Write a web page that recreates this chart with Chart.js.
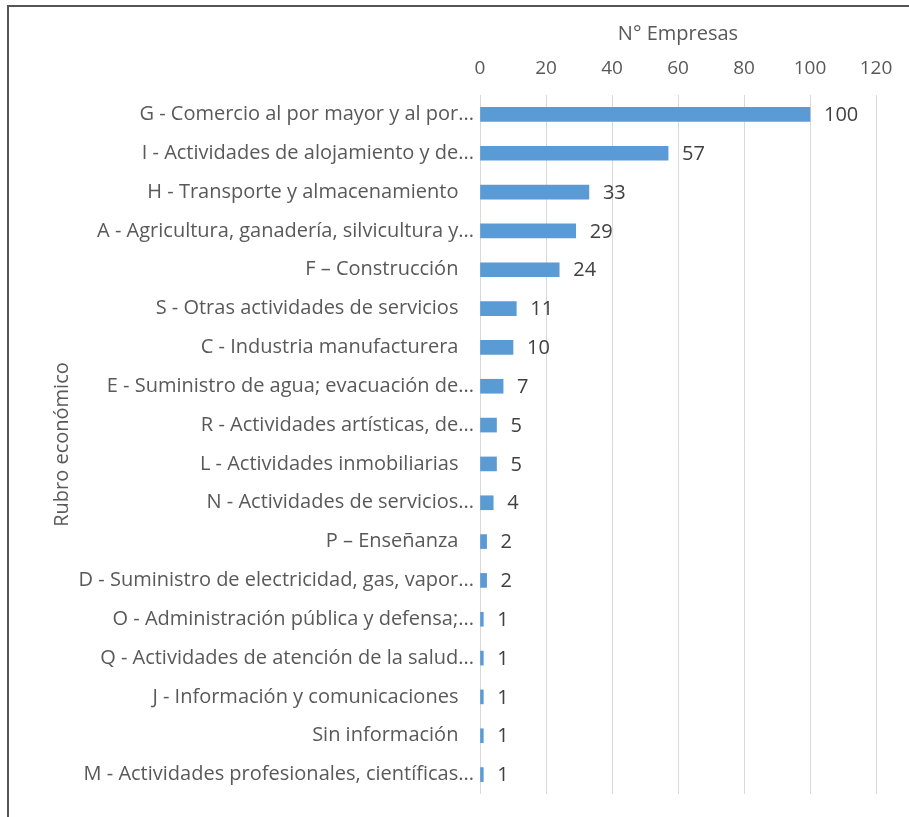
<!DOCTYPE html>
<html>
<head>
<meta charset="utf-8">
<script src="https://cdn.jsdelivr.net/npm/chart.js@4.4.1/dist/chart.umd.min.js"></script>
<style>
  html, body { margin: 0; padding: 0; background: #fff; }
  #wrap { position: relative; width: 909px; height: 817px; overflow: hidden; }
  #frame { position: absolute; left: 7px; top: 5px; width: 920px; height: 830px;
           border-left: 2px solid #555; border-top: 2px solid #555; box-sizing: border-box; }
  canvas { position: absolute; left: 0; top: 0; }
</style>
</head>
<body>
<div id="wrap">
  <canvas id="chart" width="909" height="817"></canvas>
  <div id="frame"></div>
</div>
<script>
// 業種ラベル（上から順）
const categories = [
  'G - Comercio al por mayor y al por...',
  'I - Actividades de alojamiento y de...',
  'H - Transporte y almacenamiento',
  'A - Agricultura, ganadería, silvicultura y...',
  'F – Construcción',
  'S - Otras actividades de servicios',
  'C - Industria manufacturera',
  'E - Suministro de agua; evacuación de...',
  'R - Actividades artísticas, de...',
  'L - Actividades inmobiliarias',
  'N - Actividades de servicios...',
  'P – Enseñanza',
  'D - Suministro de electricidad, gas, vapor...',
  'O - Administración pública y defensa;...',
  'Q - Actividades de atención de la salud...',
  'J - Información y comunicaciones',
  'Sin información',
  'M - Actividades profesionales, científicas...'
];

// 企業数
const empresas = [100, 57, 33, 29, 24, 11, 10, 7, 5, 5, 4, 2, 2, 1, 1, 1, 1, 1];

// 目盛り
const xTicks = [0, 20, 40, 60, 80, 100, 120];

const textColor = '#595959';
const fontFamily = '"Open Sans", sans-serif';

// 値ラベルを棒の右に描く
const valueLabels = {
  id: 'valueLabels',
  afterDatasetsDraw(chart) {
    const ctx = chart.ctx;
    const meta = chart.getDatasetMeta(0);
    ctx.save();
    ctx.font = '20px ' + fontFamily;
    ctx.fillStyle = '#404040';
    ctx.textAlign = 'left';
    ctx.textBaseline = 'middle';
    meta.data.forEach((bar, i) => {
      ctx.fillText(String(empresas[i]), bar.x + 14, bar.y + 1);
    });
    ctx.restore();
  }
};

const ctx = document.getElementById('chart').getContext('2d');
new Chart(ctx, {
  type: 'bar',
  data: {
    labels: categories,
    datasets: [{
      data: empresas,
      backgroundColor: '#5B9BD5',
      barThickness: 14
    }]
  },
  options: {
    indexAxis: 'y',
    responsive: false,
    animation: false,
    layout: { padding: { top: 16, left: 50, right: 33, bottom: 23 } },
    plugins: {
      legend: { display: false },
      tooltip: { enabled: false }
    },
    scales: {
      x: {
        position: 'top',
        min: 0,
        max: 120,
        afterBuildTicks(scale) {
          scale.ticks = xTicks.map(v => ({ value: v }));
        },
        afterFit(scale) { scale.height = 79; },
        grid: { color: '#d9d9d9', drawTicks: false },
        border: { display: false },
        ticks: { color: textColor, font: { family: fontFamily, size: 19 }, padding: 15 },
        title: {
          display: true,
          text: 'N° Empresas',
          color: textColor,
          font: { family: fontFamily, size: 20 },
          padding: { top: 6, bottom: 0 }
        }
      },
      y: {
        afterFit(scale) { scale.width = 430; },
        grid: { display: false, drawTicks: false },
        border: { display: false },
        ticks: {
          color: textColor,
          font: { family: fontFamily, size: 20 },
          padding: 6,
          autoSkip: false,
          // 省略記号のないラベルは少し左に寄せる
          callback: function(value) {
            const label = this.getLabelForValue(value);
            return label.endsWith('...') ? label : label + '\u00a0\u00a0\u00a0';
          }
        },
        title: {
          display: true,
          text: 'Rubro económico',
          color: textColor,
          font: { family: fontFamily, size: 20 },
          padding: 0
        }
      }
    }
  },
  plugins: [valueLabels]
});
</script>
</body>
</html>
